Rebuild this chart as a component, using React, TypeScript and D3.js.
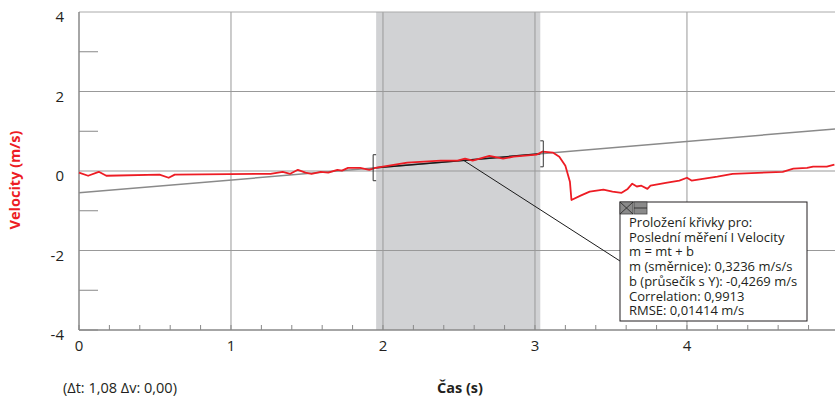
import React from "react";
import * as d3 from "d3";

const timeS = [0, 0.06, 0.13, 0.18, 0.53, 0.59, 0.63, 1.26, 1.34, 1.39, 1.44, 1.49, 1.53, 1.59, 1.64, 1.7, 1.73, 1.77, 1.85, 1.91, 1.95, 2.0, 2.16, 2.38, 2.49, 2.54, 2.59, 2.7, 2.79, 2.86, 3.01, 3.05, 3.12, 3.16, 3.2, 3.23, 3.24, 3.3, 3.36, 3.45, 3.51, 3.57, 3.61, 3.64, 3.67, 3.7, 3.74, 3.76, 3.87, 3.95, 4.0, 4.03, 4.2, 4.3, 4.63, 4.7, 4.79, 4.83, 4.92, 4.97];
const velocity = [-0.04, -0.12, -0.02, -0.12, -0.09, -0.17, -0.09, -0.07, -0.02, -0.07, 0.03, -0.04, -0.07, -0.02, -0.04, 0.03, 0.01, 0.08, 0.08, 0.03, 0.08, 0.11, 0.21, 0.26, 0.26, 0.31, 0.26, 0.38, 0.31, 0.36, 0.41, 0.49, 0.46, 0.36, 0.13, -0.27, -0.73, -0.62, -0.52, -0.47, -0.52, -0.55, -0.45, -0.32, -0.39, -0.37, -0.45, -0.37, -0.29, -0.24, -0.17, -0.24, -0.14, -0.07, -0.02, 0.06, 0.08, 0.11, 0.11, 0.16];

const selection = [1.955, 3.035];
const fitSlope = 0.3236;
const fitIntercept = -0.55; // where the drawn line sits
const xTicks = [0, 1, 2, 3, 4];
const yTicks = [4, 2, 0, -2, -4];
const yMinor = [3, 1, -1, -3, -4];
const fitText = [
  "Proložení křivky pro:",
  "Poslední měření I Velocity",
  "m = mt + b",
  "m (směrnice): 0,3236 m/s/s",
  "b (průsečík s Y): -0,4269 m/s",
  "Correlation: 0,9913",
  "RMSE: 0,01414 m/s",
];

const W = 835, H = 398;
const left = 79, right = 835, top = 12, bottom = 330;

export default function App() {
  const x = d3.scaleLinear().domain([0, 4.974]).range([left, right]);
  const y = d3.scaleLinear().domain([-4, 4]).range([bottom, top]);
  const fit = (t: number) => fitSlope * t + fitIntercept;
  const pts = timeS.map((t, i) => [t, velocity[i]] as [number, number]);
  const line = d3.line<[number, number]>().x(d => x(d[0])).y(d => y(d[1]));
  const minor = d3.range(0, 5, 0.2);
  const font = "'Open Sans', sans-serif";
  const tc = "#231f20";
  const bx = 620, by = 202, bw = 187, bh = 119;
  const anchorT = 2.53;

  return (
    <svg width={W} height={H} style={{ position: "absolute", left: 0, top: 0 }} fontFamily={font}>
      <rect x={0} y={0} width={W} height={H} fill="#fff" />
      <rect x={x(selection[0])} y={top} width={x(selection[1]) - x(selection[0])} height={bottom - top} fill="#d1d2d4" />
      {xTicks.slice(1).map(t => (
        <line key={t} x1={x(t)} x2={x(t)} y1={top} y2={bottom} stroke="#999" strokeWidth={1} />
      ))}
      {[2, 0, -2].map(v => (
        <line key={v} x1={left} x2={right} y1={y(v)} y2={y(v)} stroke="#999" strokeWidth={1} />
      ))}
      <line x1={left} x2={right} y1={top} y2={top} stroke="#aaa" strokeWidth={1} />
      {yMinor.map(v => (
        <line key={v} x1={left} x2={left + 19} y1={y(v)} y2={y(v)} stroke="#888" strokeWidth={1} />
      ))}
      {minor.map(t => (
        <line key={t} x1={x(t)} x2={x(t)} y1={bottom} y2={bottom - 5} stroke="#888" strokeWidth={1} />
      ))}
      <line x1={left} x2={left} y1={top} y2={bottom} stroke="#888" strokeWidth={1.5} />
      <line x1={left} x2={right} y1={bottom} y2={bottom} stroke="#888" strokeWidth={1.5} />

      {/* fit line */}
      <line x1={x(0)} y1={y(fit(0))} x2={x(4.974)} y2={y(fit(4.974))} stroke="#8a8a8a" strokeWidth={1.5} />
      <line x1={x(selection[0])} y1={y(fit(selection[0]))} x2={x(selection[1])} y2={y(fit(selection[1]))} stroke="#1a1a1a" strokeWidth={1.5} />
      <line x1={x(anchorT)} y1={y(fit(anchorT))} x2={bx} y2={261} stroke="#1a1a1a" strokeWidth={1} />

      <path d={line(pts) || ""} fill="none" stroke="#ed1c24" strokeWidth={1.8} strokeLinejoin="round" />

      {/* brackets */}
      {[0, 1].map(i => {
        const cx = x(selection[i]) + (i === 0 ? -3 : 3);
        const cy = y(fit(selection[i]));
        const d = i === 0 ? 3 : -3;
        return (
          <path key={i} d={`M${cx + d},${cy - 13}H${cx}V${cy + 13}H${cx + d}`} fill="none" stroke="#333" strokeWidth={1} />
        );
      })}

      {/* annotation */}
      <rect x={bx} y={by} width={bw} height={bh} fill="#fff" stroke="#231f20" strokeWidth={1} />
      <rect x={bx} y={by} width={13} height={12} fill="#8a8a8a" stroke="#444" strokeWidth={0.8} />
      <path d={`M${bx},${by}L${bx + 13},${by + 12}M${bx + 13},${by}L${bx},${by + 12}`} stroke="#222" strokeWidth={0.8} />
      <rect x={bx + 14} y={by} width={13} height={12} fill="#8a8a8a" stroke="#444" strokeWidth={0.8} />
      <line x1={bx + 14} x2={bx + 27} y1={by + 6} y2={by + 6} stroke="#222" strokeWidth={0.8} />
      {fitText.map((s, i) => (
        <text key={i} x={629} y={227 + i * 14.7} fontSize={13} fill={tc}>{s}</text>
      ))}

      {yTicks.map(v => (
        <text key={v} x={64} y={y(v) + 10} fontSize={15} textAnchor="end" fill={tc}>{v}</text>
      ))}
      {xTicks.map(t => (
        <text key={t} x={x(t)} y={351} fontSize={15} textAnchor="middle" fill={tc}>{t}</text>
      ))}
      <text transform="translate(20,180) rotate(-90)" textAnchor="middle" fontSize={14.5} fontWeight="bold" fill="#ed1c24">Velocity (m/s)</text>
      <text x={460} y={393} textAnchor="middle" fontSize={14.5} fontWeight="bold" fill={tc}>Čas (s)</text>
      <text x={63} y={393} fontSize={14.5} fill={tc}>(Δt: 1,08 Δv: 0,00)</text>
    </svg>
  );
}
